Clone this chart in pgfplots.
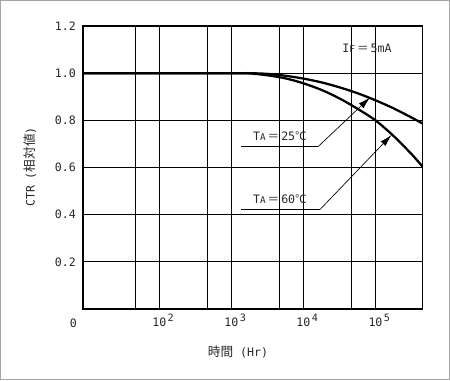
\documentclass[border=0pt]{standalone}
\usepackage{fontspec}
\setmainfont{DejaVu Sans Mono}
\newfontfamily\jp{Noto Sans CJK JP}
\usepackage{pgfplots}
\pgfplotsset{compat=1.18}
\usetikzlibrary{arrows.meta}
\definecolor{frame}{RGB}{165,165,165}
\definecolor{txt}{RGB}{40,40,40}
\newcommand{\sm}[1]{{\fontsize{7}{7}\selectfont #1}}
\newcommand{\supx}[1]{\rlap{\kern1pt\raisebox{3.6pt}{\fontsize{7.6}{8}\selectfont #1}}}
\begin{document}
\fontsize{8.7}{10}\selectfont
\begin{tikzpicture}
\useasboundingbox (0,0) rectangle (337.5pt,285pt);
\draw[frame, line width=0.75pt] (0.375pt,0.375pt) rectangle (337.125pt,284.625pt);
\begin{axis}[
  at={(62pt,53.25pt)}, anchor=south west,
  scale only axis, width=254.9pt, height=212.25pt,
  xmode=log, xmin=8.6, xmax=450000, ymin=0, ymax=1.2,
  axis line style={line width=1.4pt},
  xtick={100,1000,10000,100000},
  xticklabels={10\supx{2},10\supx{3},10\supx{4},10\supx{5}},
  extra x ticks={46.4,464,4642,46416},
  extra x tick labels={},
  extra x tick style={grid=major},
  xminorticks=false,
  ytick={0.2,0.4,0.6,0.8,1.0,1.2},
  yticklabels={0.2,0.4,0.6,0.8,1.0,1.2},
  major tick length=0pt,
  grid=major,
  major grid style={black, line width=0.75pt},
  tick label style={font=\fontsize{8.7}{10}\selectfont, text=txt},
  xticklabel style={anchor=base, inner sep=0pt, yshift=-13.3pt},
  yticklabel style={anchor=east, inner sep=0pt, xshift=-5pt},
  /pgf/number format/assume math mode=true,
  clip=false,
]
% T_A = 25 C
\addplot[black, line width=1.7pt, smooth] coordinates {
  (8.6,1.0) (1000,1.0) (1778,1.0) (3162,0.997) (5623,0.989) (10000,0.977)
  (17783,0.961) (31623,0.940) (56234,0.915) (100000,0.885) (177828,0.851)
  (316228,0.812) (446684,0.787)};
% T_A = 60 C
\addplot[black, line width=1.7pt, smooth] coordinates {
  (8.6,1.0) (1000,1.0) (1778,0.999) (3162,0.991) (5623,0.978) (10000,0.957)
  (17783,0.929) (31623,0.893) (56234,0.849) (100000,0.800) (177828,0.734)
  (316228,0.657) (446684,0.605)};
\end{axis}
\begin{scope}[x=0.75pt,y=-0.75pt,yshift=285pt]
  \node[text=txt] at (73.3,323) {0};
  \node[text=txt] at (238,352) {{\jp\fontsize{9.5}{10}\selectfont 時間} (Hr)};
  \node[text=txt, rotate=90] at (30,167) {CTR ({\jp\fontsize{9.5}{10}\selectfont 相対値})};
  \node[text=txt] at (367,48) {I\sm{F}\,{\jp ＝}\,5mA};
  \node[text=txt] at (280,135.7) {T\sm{A}\,{\jp ＝}\,25{\jp ℃}};
  \node[text=txt] at (280,199) {T\sm{A}\,{\jp ＝}\,60{\jp ℃}};
  \draw[black, line width=0.75pt] (241,146.7) -- (318,146.7);
  \draw[black, line width=0.75pt] (241,209.5) -- (320,209.5);
  \draw[black, line width=0.5pt, -{Latex[length=9pt,width=5pt]}] (318,146.7) -- (370,97.5);
  \draw[black, line width=0.5pt, -{Latex[length=9pt,width=5pt]}] (320,209.5) -- (391.5,135);
\end{scope}
\end{tikzpicture}
\end{document}
